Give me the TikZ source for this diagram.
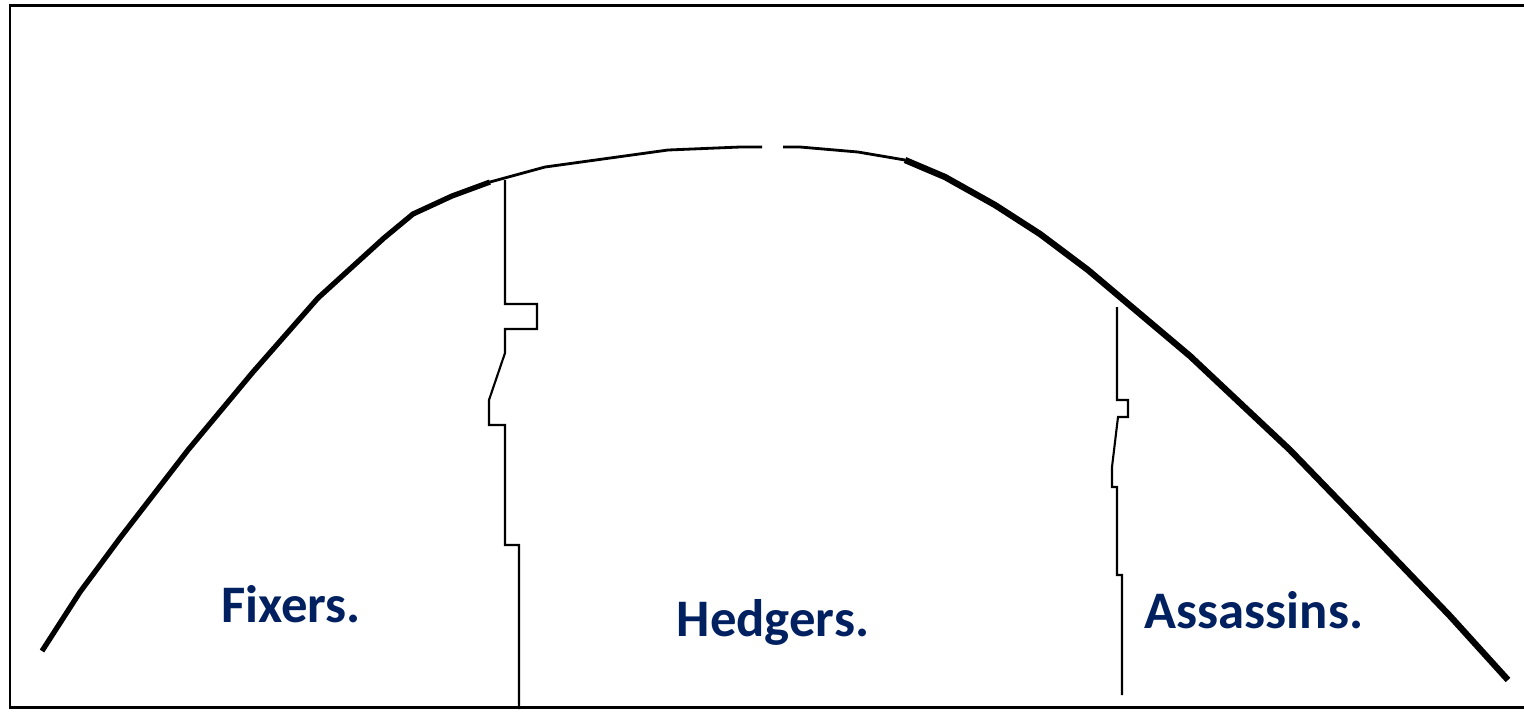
\documentclass[tikz,border=0pt]{standalone}
\usepackage{fontspec}
\setmainfont{Carlito}
\usepackage{tikz}
\definecolor{labelblue}{HTML}{002060}

\begin{document}
\begin{tikzpicture}[
  x=0.01cm, y=-0.01cm,
  frame/.style={line width=0.85pt},
  curve/.style={line join=round, line cap=butt},
  divider/.style={line width=0.6pt, line join=miter},
  group/.style={font=\fontsize{15}{18}\selectfont\bfseries, text=labelblue, anchor=base}
]
\useasboundingbox (0,0) rectangle (1524,711);

% frame, open on the right
\draw[frame] (1524,5) -- (10,5) -- (10,707) -- (1524,707);

% the bell curve
\draw[curve, line width=1.5pt] (42,651) -- (80,592) -- (120,538) -- (188,450) -- (253,372)
  -- (318,298) -- (384,238) -- (413,214) -- (452,196) -- (490,182);
\draw[curve, line width=0.8pt] (490,182) -- (545,167) -- (668,150) -- (740,147) -- (762,147);
\draw[curve, line width=0.8pt] (783,147) -- (800,147) -- (858,152) -- (905,160);
\draw[curve, line width=1.8pt] (905,160) -- (945,177) -- (995,205) -- (1040,234) -- (1088,270)
  -- (1190,356) -- (1290,450) -- (1380,543) -- (1450,616) -- (1508,680);

% dividers
\draw[divider] (505,180) -- (505,304) -- (537,304) -- (537,329) -- (505,329) -- (505,353)
  -- (489,400) -- (489,425) -- (505,425) -- (505,545) -- (519,545) -- (519,709);
\draw[divider] (1117,307) -- (1117,400) -- (1128,400) -- (1128,417) -- (1118,417)
  -- (1112,467) -- (1112,487) -- (1117,487) -- (1117,575) -- (1122,575) -- (1122,695);

% groups
\node[group] (fixers) at (291,622) {Fixers.};
\node[group] (hedgers) at (773,636) {Hedgers.};
\node[group] (assassins) at (1254,628) {Assassins.};
\end{tikzpicture}
\end{document}
